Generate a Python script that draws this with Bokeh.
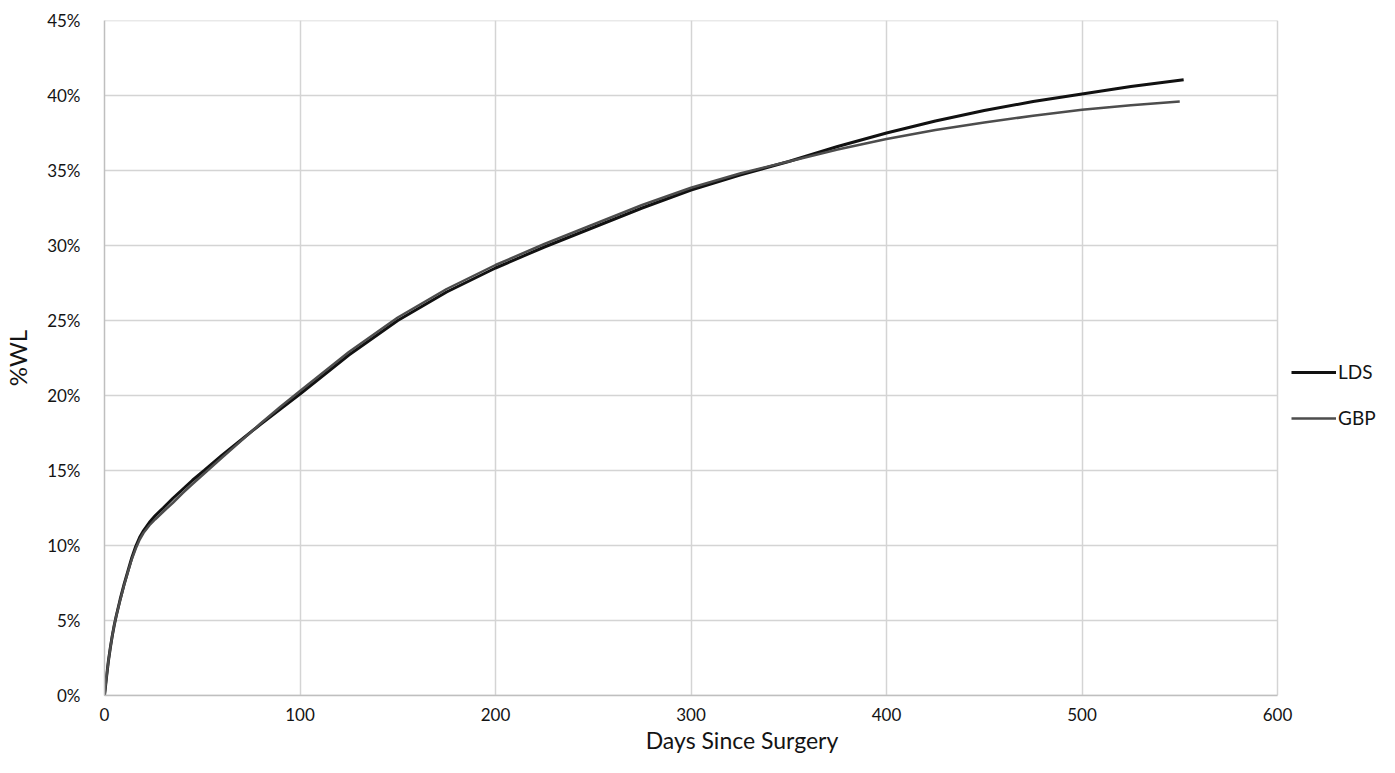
from bokeh.plotting import figure
from bokeh.models import Range1d, Legend, LegendItem, PrintfTickFormatter, FixedTicker
from bokeh.embed import file_html
from bokeh.resources import INLINE

lds_days = [0, 1, 2, 3, 4, 5, 6, 8, 10, 12, 14, 16, 18, 20, 23, 26, 30, 35, 40, 45, 51, 60, 70, 80,
            90, 100, 125, 150, 175, 200, 225, 250, 275, 300, 325, 350, 375, 400, 425, 450, 475, 500,
            525, 552]
lds_wl = [0, 1.2, 2.3, 3.2, 4.0, 4.7, 5.3, 6.4, 7.4, 8.3, 9.2, 9.95, 10.55, 11.0, 11.55, 12.0, 12.5,
          13.15, 13.75, 14.35, 15.0, 16.0, 17.05, 18.1, 19.1, 20.1, 22.7, 25.0, 26.9, 28.5, 29.9,
          31.2, 32.5, 33.7, 34.7, 35.6, 36.6, 37.5, 38.3, 39.0, 39.6, 40.1, 40.6, 41.05]

gbp_days = [0, 1, 2, 3, 4, 5, 6, 8, 10, 12, 14, 16, 18, 20, 23, 26, 30, 35, 40, 45, 51, 60, 70, 80,
            90, 100, 125, 150, 175, 200, 225, 250, 275, 300, 325, 350, 375, 400, 425, 450, 475, 500,
            525, 550]
gbp_wl = [0, 1.2, 2.3, 3.2, 4.0, 4.7, 5.3, 6.35, 7.35, 8.25, 9.1, 9.8, 10.4, 10.85, 11.35, 11.75,
          12.25, 12.85, 13.5, 14.1, 14.8, 15.85, 17.0, 18.15, 19.25, 20.3, 22.9, 25.2, 27.1, 28.7,
          30.1, 31.4, 32.7, 33.85, 34.8, 35.6, 36.4, 37.1, 37.7, 38.2, 38.65, 39.05, 39.35, 39.6]

x_ticks = [0, 100, 200, 300, 400, 500, 600]
y_ticks = [0, 5, 10, 15, 20, 25, 30, 35, 40, 45]

FONT = "Lato"
TXT = "#141414"
GRID = "#d4d4d4"

W, H = 1379, 757
LEFT, BOTTOM, TOP = 104, 62, 20
AXIS_PX = 1173  # pixel span of 0..600 days
frame_w = W - LEFT
x_end = x_ticks[-1] * frame_w / AXIS_PX

p = figure(width=W, height=H, output_backend="svg", toolbar_location=None,
           x_range=Range1d(0, x_end), y_range=Range1d(y_ticks[0], y_ticks[-1]),
           min_border_left=LEFT, min_border_right=0, min_border_top=TOP, min_border_bottom=BOTTOM)
p.outline_line_color = None

# horizontal gridlines limited to the 0..600 span
p.segment(x0=[x_ticks[0]] * len(y_ticks), x1=[x_ticks[-1]] * len(y_ticks), y0=y_ticks, y1=y_ticks,
          line_color=GRID, line_width=1.5, level="underlay")

r1 = p.line(lds_days, lds_wl, line_color="#111111", line_width=3)
r2 = p.line(gbp_days, gbp_wl, line_color="#4d4d4d", line_width=2.5)

p.xaxis.ticker = FixedTicker(ticks=x_ticks)
p.yaxis.ticker = FixedTicker(ticks=y_ticks)
p.yaxis.formatter = PrintfTickFormatter(format="%d%%")
p.xaxis.bounds = (x_ticks[0], x_ticks[-1])

for ax in (p.xaxis[0], p.yaxis[0]):
    ax.axis_line_color = "#bfbfbf"
    ax.axis_line_width = 1.5
    ax.major_tick_line_color = None
    ax.minor_tick_line_color = None
    ax.major_label_text_font = FONT
    ax.major_label_text_font_size = "17px"
    ax.major_label_text_color = TXT
    ax.axis_label_text_font = FONT
    ax.axis_label_text_font_style = "normal"
    ax.axis_label_text_color = TXT

p.xaxis.axis_label = "Days Since Surgery"
p.xaxis.axis_label_text_font_size = "23px"
p.xaxis.major_label_standoff = 6
p.xaxis.axis_label_standoff = 2
p.yaxis.axis_label = "%WL"
p.yaxis.axis_label_text_font_size = "24px"
p.yaxis.major_label_standoff = 18
p.yaxis.axis_label_standoff = 12

p.xgrid.grid_line_color = GRID
p.xgrid.grid_line_width = 1.5
p.ygrid.grid_line_color = None

legend = Legend(items=[LegendItem(label="LDS", renderers=[r1]),
                       LegendItem(label="GBP", renderers=[r2])],
                location=(1187, 266), orientation="vertical")
legend.glyph_width = 45
legend.glyph_height = 20
legend.label_height = 20
legend.spacing = 23
legend.padding = 0
legend.margin = 0
legend.label_standoff = 2
legend.border_line_color = None
legend.background_fill_alpha = 0
legend.label_text_font = FONT
legend.label_text_font_size = "19px"
legend.label_text_color = TXT
p.add_layout(legend, "center")

open("out.html", "w").write(file_html(p, INLINE))
